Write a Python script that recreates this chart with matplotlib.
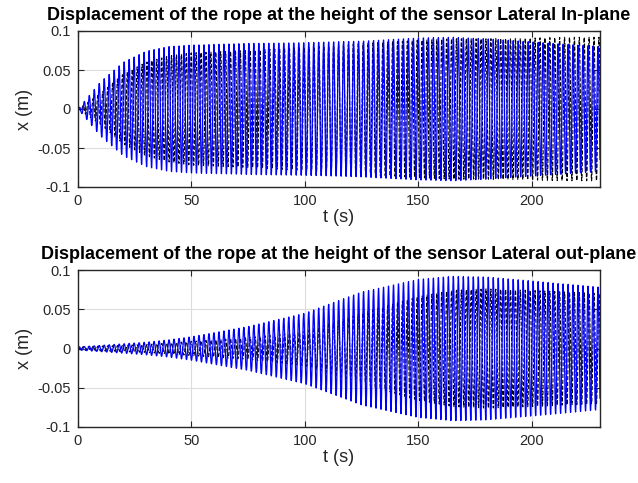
import numpy as np
import matplotlib.pyplot as plt

plt.rcParams['font.family'] = ['Liberation Sans', 'DejaVu Sans']

# envelope knots (time in s, amplitude in m)
t_knots = [0, 10, 20, 30, 40, 50, 75, 100, 125, 150, 165, 180, 200, 215, 230]

inplane_blue_amp = [0.0, 0.035, 0.06, 0.074, 0.080, 0.082, 0.084, 0.085, 0.087,
                    0.091, 0.092, 0.090, 0.086, 0.083, 0.080]
inplane_black_amp = [0.0, 0.02, 0.045, 0.060, 0.068, 0.072, 0.075, 0.079, 0.084,
                     0.088, 0.090, 0.090, 0.091, 0.092, 0.092]
outplane_blue_amp = [0.002, 0.004, 0.006, 0.008, 0.011, 0.015, 0.028, 0.045, 0.072,
                     0.088, 0.092, 0.091, 0.086, 0.082, 0.078]
outplane_black_amp = [0.002, 0.003, 0.004, 0.005, 0.007, 0.009, 0.014, 0.022, 0.045,
                      0.066, 0.074, 0.076, 0.074, 0.072, 0.070]

f_blue = 0.455   # Hz
f_black = 0.462  # Hz

titles = ['Displacement of the rope at the height of the sensor Lateral In-plane',
          'Displacement of the rope at the height of the sensor Lateral out-plane']

t = np.arange(0, 230.01, 0.04)


def signal(amp, f, ph):
    env = np.interp(t, t_knots, amp)
    return env * np.sin(2 * np.pi * f * t + ph)


fig = plt.figure(figsize=(6.38, 4.83), dpi=100)
ax1 = fig.add_axes([78 / 638, 1 - 187 / 483, 522 / 638, 156 / 483])
ax2 = fig.add_axes([78 / 638, 1 - 427 / 483, 522 / 638, 157 / 483])

data = [(inplane_black_amp, inplane_blue_amp), (outplane_black_amp, outplane_blue_amp)]

for ax, (amp_k, amp_b), title in zip([ax1, ax2], data, titles):
    ax.plot(t, signal(amp_k, f_black, 1.3), color='k', lw=0.8, ls='--')
    ax.plot(t, signal(amp_b, f_blue, 0.0), color='#0000ff', lw=0.9)
    ax.set_xlim(0, 230)
    ax.set_ylim(-0.1, 0.1)
    ax.set_xticks([0, 50, 100, 150, 200])
    ax.set_yticks([-0.1, -0.05, 0, 0.05, 0.1])
    ax.set_yticklabels(['-0.1', '-0.05', '0', '0.05', '0.1'])
    ax.grid(True, color='#dcdcdc', lw=0.8)
    ax.set_axisbelow(True)
    ax.tick_params(direction='in', length=4, labelsize=10.5, colors='#262626',
                   top=True, right=True, pad=5)
    for s in ax.spines.values():
        s.set_color('#262626')
        s.set_linewidth(1.0)
    ax.set_xlabel('t (s)', fontsize=13, color='#262626', labelpad=1)
    ax.set_ylabel('x (m)', fontsize=13, color='#262626', labelpad=3)
    ax.set_title(title, fontsize=13, fontweight='bold', pad=8)

fig.savefig('out.png', dpi=100)
